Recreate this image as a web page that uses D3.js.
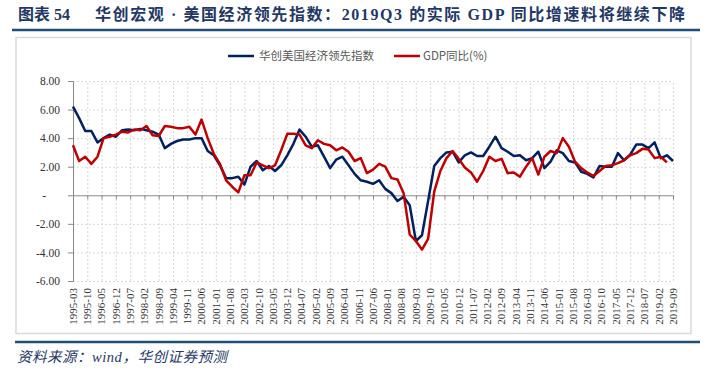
<!DOCTYPE html>
<html><head><meta charset="utf-8">
<script src="https://cdn.jsdelivr.net/npm/d3@7"></script>
<style>body{margin:0;background:#fff}svg{display:block}</style>
</head><body><svg id="c" width="711" height="378"></svg>
<script>
const quarters = [
"1995-03","1995-06","1995-09","1995-12","1996-03","1996-06","1996-09","1996-12",
"1997-03","1997-06","1997-09","1997-12","1998-03","1998-06","1998-09","1998-12",
"1999-03","1999-06","1999-09","1999-12","2000-03","2000-06","2000-09","2000-12",
"2001-03","2001-06","2001-09","2001-12","2002-03","2002-06","2002-09","2002-12",
"2003-03","2003-06","2003-09","2003-12","2004-03","2004-06","2004-09","2004-12",
"2005-03","2005-06","2005-09","2005-12","2006-03","2006-06","2006-09","2006-12",
"2007-03","2007-06","2007-09","2007-12","2008-03","2008-06","2008-09","2008-12",
"2009-03","2009-06","2009-09","2009-12","2010-03","2010-06","2010-09","2010-12",
"2011-03","2011-06","2011-09","2011-12","2012-03","2012-06","2012-09","2012-12",
"2013-03","2013-06","2013-09","2013-12","2014-03","2014-06","2014-09","2014-12",
"2015-03","2015-06","2015-09","2015-12","2016-03","2016-06","2016-09","2016-12",
"2017-03","2017-06","2017-09","2017-12","2018-03","2018-06","2018-09","2018-12",
"2019-03","2019-06","2019-09"];

const leadingIndex = [
6.2,5.4,4.5,4.5,3.7,4.0,4.25,4.1,
4.55,4.6,4.55,4.65,4.55,4.45,4.25,3.3,
3.6,3.8,3.9,3.9,4.0,4.0,3.1,2.8,
2.1,1.2,1.2,1.3,0.75,2.0,2.4,1.75,
2.05,1.7,2.1,2.8,3.6,4.6,4.1,3.4,
3.5,2.7,1.9,2.5,2.7,2.1,1.5,1.05,
0.95,0.8,1.05,0.45,0.15,-0.4,-0.1,-0.7,
-3.2,-2.8,-0.4,2.05,2.6,3.0,3.05,2.3,
2.8,3.0,2.75,2.75,3.4,4.1,3.3,3.05,
2.75,2.8,2.45,2.6,3.05,1.9,2.35,3.15,
2.95,2.4,2.3,1.65,1.5,1.25,2.05,2.0,
2.0,2.95,2.45,2.85,3.55,3.55,3.3,3.7,
2.6,2.8,2.4];

const gdpYoY = [
3.5,2.4,2.7,2.2,2.7,4.0,4.1,4.25,
4.45,4.4,4.6,4.55,4.85,4.2,4.15,4.85,
4.8,4.7,4.7,4.8,4.25,5.3,4.0,2.9,
2.2,1.05,0.6,0.2,1.4,1.4,2.3,2.1,
1.9,2.1,3.15,4.3,4.3,4.25,3.5,3.3,
3.85,3.6,3.5,3.15,3.35,3.05,2.4,2.6,
1.55,1.8,2.2,2.0,1.2,1.1,0.15,-2.75,
-3.2,-3.8,-3.05,0.25,1.7,2.6,3.1,2.55,
1.95,1.6,0.95,1.7,2.7,2.4,2.55,1.55,
1.6,1.3,2.0,2.6,1.45,2.7,3.1,2.95,
4.0,3.4,2.35,1.9,1.6,1.35,1.7,2.05,
2.1,2.25,2.45,2.8,2.95,3.25,3.2,2.6,
2.7,2.3];

const xTickLabels = [
"1995-03","1995-10","1996-05","1996-12","1997-07","1998-02","1998-09","1999-04","1999-11",
"2000-06","2001-01","2001-08","2002-03","2002-10","2003-05","2003-12","2004-07","2005-02",
"2005-09","2006-04","2006-11","2007-06","2008-01","2008-08","2009-03","2009-10","2010-05",
"2010-12","2011-07","2012-02","2012-09","2013-04","2013-11","2014-06","2015-01","2015-08",
"2016-03","2016-10","2017-05","2017-12","2018-07","2019-02","2019-09"];

const yTicks = [8,6,4,2,0,-2,-4,-6];
const yTickLabels = ["8.00","6.00","4.00","2.00","-","-2.00","-4.00","-6.00"];
const seriesNames = ["华创美国经济领先指数","GDP同比(%)"];
const seriesColors = ["#002060","#C00000"];
const titleLabel = "图表 54";
const titleText = "华创宏观 · 美国经济领先指数：2019Q3 的实际 GDP 同比增速料将继续下降";
const sourceText = "资料来源：wind，华创证券预测";

function monthIndex(s){const p=s.split("-").map(Number);return (p[0]-1995)*12+(p[1]-3);}

const svg = d3.select("#c");
const serif = "'Liberation Serif','Noto Sans CJK SC',serif";
const sans = "'Noto Sans CJK SC','Liberation Sans',sans-serif";

// Title
svg.append("text").attr("x",18).attr("y",20)
  .attr("font-family",serif).attr("font-weight","bold").attr("font-size",16)
  .attr("fill","#1F3864").text(titleLabel);
svg.append("text").attr("x",95).attr("y",20)
  .attr("font-family",serif).attr("font-weight","bold").attr("font-size",16)
  .attr("fill","#1F3864").attr("textLength",590).attr("lengthAdjust","spacing")
  .text(titleText);
svg.append("line").attr("x1",12).attr("x2",700).attr("y1",30).attr("y2",30)
  .attr("stroke","#1F4E79").attr("stroke-width",2.5);

// Frame
svg.append("rect").attr("x",16).attr("y",37.5).attr("width",675).attr("height",296)
  .attr("fill","#fff").attr("stroke","#D9D9D9").attr("stroke-width",1.5);

// Bottom rule + source
svg.append("line").attr("x1",15).attr("x2",700).attr("y1",342).attr("y2",342)
  .attr("stroke","#1F4E79").attr("stroke-width",2.5);
svg.append("text").attr("x",17).attr("y",362)
  .attr("font-family",serif).attr("font-style","italic").attr("font-size",14.5)
  .attr("fill","#1F3864").attr("textLength",210).attr("lengthAdjust","spacing")
  .text(sourceText);

const x = d3.scaleLinear().domain([0, monthIndex(xTickLabels[xTickLabels.length-1])]).range([73,673]);
const y = d3.scaleLinear().domain([-6,8]).range([281,81]);
const tickMonths = xTickLabels.map(monthIndex);

// Grid
const gy = svg.append("g").attr("transform","translate(73,0)")
  .call(d3.axisLeft(y).tickValues(yTicks.filter(d=>d!==0)).tickSize(-600).tickFormat(""));
gy.select(".domain").remove();
gy.selectAll("line").attr("stroke","#D9D9D9").attr("stroke-dasharray","2,2");
const gx = svg.append("g").attr("transform","translate(0,281)")
  .call(d3.axisBottom(x).tickValues(tickMonths).tickSize(-200).tickFormat(""));
gx.select(".domain").remove();
gx.selectAll("line").attr("stroke","#D9D9D9").attr("stroke-dasharray","2,2");

// Y axis
const ay = svg.append("g").attr("transform","translate(73,0)")
  .call(d3.axisLeft(y).tickValues(yTicks).tickSize(5).tickPadding(8)
    .tickFormat((d,i)=>yTickLabels[i]));
ay.select(".domain").attr("stroke","#898989");
ay.selectAll("line").attr("stroke","#898989");
ay.selectAll("text").attr("font-family",serif).attr("font-size",11.5).attr("fill","#333");
ay.selectAll(".tick").filter(d=>d===0).select("text").attr("dx","-14");

// X axis (at zero)
const ax = svg.append("g").attr("transform",`translate(0,${y(0)})`)
  .call(d3.axisBottom(x).tickValues(tickMonths).tickSize(4).tickFormat(""));
ax.select(".domain").attr("stroke","#898989");
ax.selectAll("line").attr("stroke","#898989");

// X labels at bottom
svg.append("g").selectAll("text").data(xTickLabels).join("text")
  .attr("transform",d=>`translate(${x(monthIndex(d))},288) rotate(-90)`)
  .attr("text-anchor","end").attr("dy","0.35em")
  .attr("font-family",serif).attr("font-size",11).attr("fill","#333")
  .text(d=>d);

// Lines
const line = d3.line().x((d,i)=>x(monthIndex(quarters[i]))).y(d=>y(d));
[leadingIndex,gdpYoY].forEach((s,k)=>{
  svg.append("path").datum(s).attr("d",line).attr("fill","none")
    .attr("stroke",seriesColors[k]).attr("stroke-width",2.5)
    .attr("stroke-linejoin","round");
});

// Legend
const lg = [{x:228,tx:259},{x:394,tx:423}];
lg.forEach((p,k)=>{
  svg.append("line").attr("x1",p.x).attr("x2",p.x+26).attr("y1",56).attr("y2",56)
    .attr("stroke",seriesColors[k]).attr("stroke-width",2.5);
  svg.append("text").attr("x",p.tx).attr("y",56).attr("dy","0.35em")
    .attr("font-family",sans).attr("font-size",11.5).attr("fill","#595959")
    .text(seriesNames[k]);
});
</script></body></html>
